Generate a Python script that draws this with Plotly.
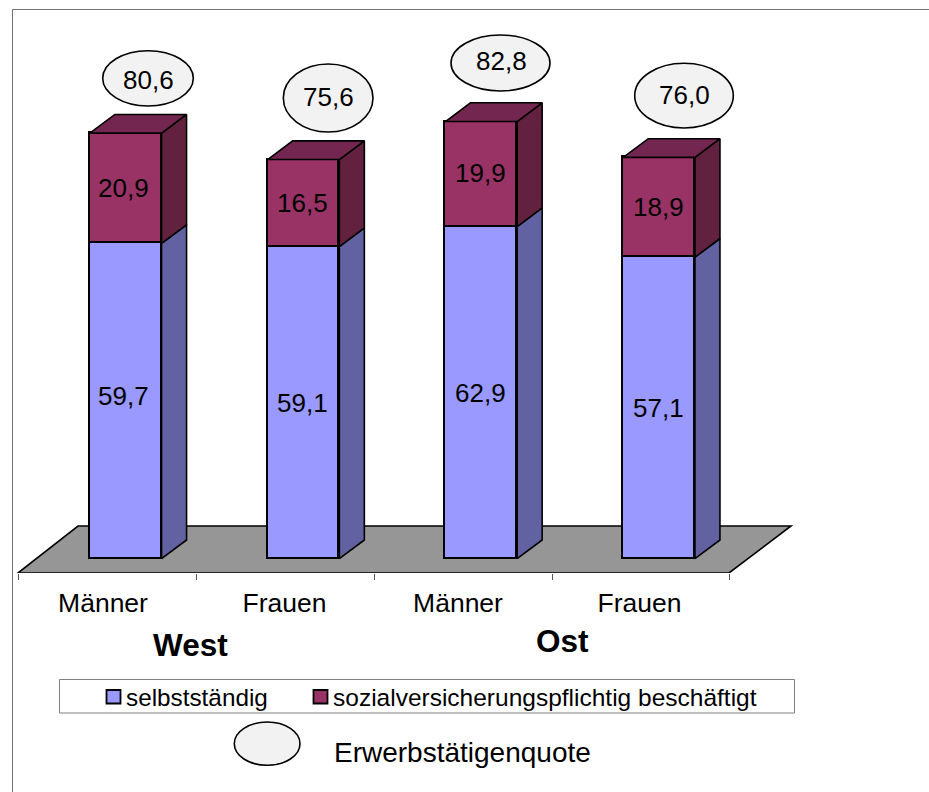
import plotly.graph_objects as go

# ---- data ----
positions = [0, 1, 2, 3]
categories = ["Männer", "Frauen", "Männer", "Frauen"]
selbststaendig = [59.7, 59.1, 62.9, 57.1]
sozial = [20.9, 16.5, 19.9, 18.9]
quote = [80.6, 75.6, 82.8, 76.0]
series_names = ["selbstständig", "sozialversicherungspflichtig beschäftigt"]
groups = ["West", "Ost"]
quote_name = "Erwerbstätigenquote"

# ---- layout constants (pixels) ----
W, H = 929, 792
AXIS_PY = 573
X0_PX, X_STEP = 125.7, 177.8      # px of category 0, px per category
Y0_PX, Y_SCALE = 558.7, 5.28      # px of value 0, px per value unit
BAR_W = 71.7 / X_STEP
DX = 25 / X_STEP                  # depth of bars
DY = 18.7 / Y_SCALE
FONT = "Liberation Sans"
BLUE, PLUM = "#9999FF", "#993366"
BLUE_SIDE, PLUM_SIDE, PLUM_TOP = "#6262A3", "#62213F", "#73264F"
LW = 1.6


def ux(px):
    return (px - X0_PX) / X_STEP


def uy(py):
    return (Y0_PX - py) / Y_SCALE


def paper_x(px):
    return px / W


def paper_y(py):
    return (AXIS_PY - py) / AXIS_PY


def fmt(v):
    return f"{v:.1f}".replace(".", ",")


def poly_trace(xs, ys, color):
    return go.Scatter(x=xs, y=ys, mode="lines", fill="toself", fillcolor=color,
                      line=dict(color="black", width=LW), hoverinfo="skip",
                      showlegend=False)


fig = go.Figure()
fig.add_bar(x=positions, y=selbststaendig, width=BAR_W, name=series_names[0],
            marker=dict(color=BLUE, line=dict(color="black", width=LW)), showlegend=False)
fig.add_bar(x=positions, y=sozial, width=BAR_W, name=series_names[1],
            marker=dict(color=PLUM, line=dict(color="black", width=LW)), showlegend=False)

# 3D side and top faces, derived from the data
sx_b, sy_b, sx_p, sy_p, tx, ty = [], [], [], [], [], []
for p, a, b in zip(positions, selbststaendig, sozial):
    xl, xr = p - BAR_W / 2, p + BAR_W / 2
    sx_b += [xr, xr + DX, xr + DX, xr, xr, None]
    sy_b += [0, DY, a + DY, a, 0, None]
    sx_p += [xr, xr + DX, xr + DX, xr, xr, None]
    sy_p += [a, a + DY, a + b + DY, a + b, a, None]
    tx += [xl, xl + DX, xr + DX, xr, xl, None]
    ty += [a + b, a + b + DY, a + b + DY, a + b, a + b, None]
fig.add_trace(poly_trace(sx_b, sy_b, BLUE_SIDE))
fig.add_trace(poly_trace(sx_p, sy_p, PLUM_SIDE))
fig.add_trace(poly_trace(tx, ty, PLUM_TOP))

shapes = []
annotations = []


def text(px, py, s, size, bold=False, anchor="center"):
    annotations.append(dict(xref="paper", yref="paper", x=paper_x(px), y=paper_y(py),
                            text=f"<b>{s}</b>" if bold else s, showarrow=False,
                            xanchor=anchor, yanchor="middle", borderpad=0,
                            font=dict(family=FONT, size=size, color="black")))


def ellipse(x0, x1, y0, y1):
    shapes.append(dict(type="circle", xref="paper", yref="paper",
                       x0=paper_x(x0), x1=paper_x(x1), y0=paper_y(y0), y1=paper_y(y1),
                       fillcolor="#F2F2F2", line=dict(color="black", width=LW)))


def rect(x0, x1, y0, y1, fill, color, width):
    shapes.append(dict(type="rect", xref="paper", yref="paper",
                       x0=paper_x(x0), x1=paper_x(x1), y0=paper_y(y0), y1=paper_y(y1),
                       fillcolor=fill, line=dict(color=color, width=width)))


# outer frame (left and top only)
for x0, y0, x1, y1 in [(12.5, 9.5, 12.5, 792), (12.5, 9.5, 929, 9.5)]:
    shapes.append(dict(type="line", xref="paper", yref="paper",
                       x0=paper_x(x0), x1=paper_x(x1), y0=paper_y(y0), y1=paper_y(y1),
                       line=dict(color="#707070", width=1)))

# floor
fp = [(18, 573), (78, 526), (791, 526), (729, 573)]
path = "M " + " L ".join(f"{ux(a)},{uy(b)}" for a, b in fp) + " Z"
shapes.append(dict(type="path", xref="x", yref="y", path=path, layer="below",
                   fillcolor="#969696", line=dict(color="black", width=LW)))

# value labels inside the bars
label_x = [124, 302, 480, 658]
label_y_blue = [396, 403, 393, 408]
label_y_plum = [188, 203, 173, 207]
for lx, ya, yb, a, b in zip(label_x, label_y_blue, label_y_plum, selbststaendig, sozial):
    text(lx, ya, fmt(a), 26)
    text(lx, yb, fmt(b), 26)

# bubbles with the employment rate
bubble_boxes = [(102.7, 193.3, 50.7, 106), (283.3, 373, 64, 132),
                (451, 550, 35, 91), (634.7, 733.3, 63.3, 128)]
bubble_text = [(148, 80), (328, 97), (501, 61), (684, 95)]
for box, tp, q in zip(bubble_boxes, bubble_text, quote):
    ellipse(*box)
    text(tp[0], tp[1], fmt(q), 26)

# group titles
text(190, 644.5, groups[0], 31.5, bold=True)
text(562, 640.5, groups[1], 31.5, bold=True)

# legend
rect(59.5, 794.5, 679.5, 713, "white", "#808080", 1)
rect(106.5, 120.5, 690, 703.5, BLUE, "black", 1.8)
rect(313.5, 327.5, 690, 703.5, PLUM, "black", 1.8)
text(124.5, 697, series_names[0], 24.3, anchor="left")
text(331.5, 697, series_names[1], 24.5, anchor="left")
ellipse(234.3, 300, 722, 765.3)
text(333, 752.5, quote_name, 28, anchor="left")

tick_label_px = [103, 284.5, 458, 639.5]
boundary_px = [18, 196, 374, 552, 729]

fig.update_layout(
    width=W, height=H, barmode="stack", bargap=0,
    margin=dict(l=0, r=0, t=0, b=H - AXIS_PY, pad=0),
    paper_bgcolor="white", plot_bgcolor="rgba(0,0,0,0)",
    showlegend=False, shapes=shapes, annotations=annotations,
    xaxis=dict(range=[ux(0), ux(W)], showgrid=False, zeroline=False, showline=False,
               tickmode="array", tickvals=[ux(p) for p in tick_label_px],
               ticktext=categories, ticks="", ticklabelstandoff=11,
               tickfont=dict(family=FONT, size=26.5, color="black"),
               minor=dict(tickmode="array", tickvals=[ux(p) for p in boundary_px],
                          ticks="outside", ticklen=6, tickwidth=1, tickcolor="#555555")),
    yaxis=dict(range=[uy(AXIS_PY), uy(0)], visible=False),
)

fig.write_html("out.html", post_script="document.body.style.margin='0';",
               config=dict(displayModeBar=False))
